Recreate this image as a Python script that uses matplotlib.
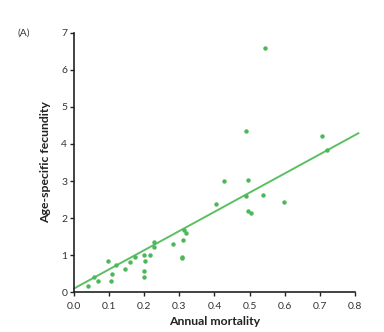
import matplotlib
matplotlib.use("Agg")
import matplotlib.pyplot as plt

mortality = [0.041, 0.058, 0.069, 0.098, 0.105, 0.107, 0.119, 0.146, 0.159, 0.173,
             0.199, 0.202, 0.199, 0.198, 0.217, 0.227, 0.228, 0.282, 0.309, 0.308,
             0.308, 0.314, 0.318, 0.404, 0.427, 0.497, 0.491, 0.497, 0.505, 0.538,
             0.599, 0.543, 0.490, 0.707, 0.721]
fecundity = [0.16, 0.41, 0.31, 0.84, 0.30, 0.50, 0.72, 0.63, 0.82, 0.95,
             1.00, 0.83, 0.56, 0.42, 0.99, 1.36, 1.23, 1.31, 1.42, 0.96,
             0.92, 1.67, 1.60, 2.39, 3.01, 3.02, 2.59, 2.20, 2.13, 2.61,
             2.44, 6.59, 4.34, 4.22, 3.84]
fit_x = [0.0, 0.81]
fit_y = [0.10, 4.29]

green = "#4cb85a"
fig = plt.figure(figsize=(3.84, 3.32), dpi=100)
ax = fig.add_axes([0.193, 0.120, 0.731, 0.781])
ax.plot(fit_x, fit_y, color="#5cbf62", lw=1.4, clip_on=False, zorder=2)
ax.plot(mortality, fecundity, "o", color=green, ms=3.2, mec="none", zorder=3, clip_on=False)
ax.set_xlim(0, 0.8)
ax.set_ylim(0, 7)
ax.set_xticks([0, 0.1, 0.2, 0.3, 0.4, 0.5, 0.6, 0.7, 0.8])
ax.set_xticklabels(["0.0", "0.1", "0.2", "0.3", "0.4", "0.5", "0.6", "0.7", "0.8"])
ax.set_yticks(range(8))
for s in ["top", "right"]:
    ax.spines[s].set_visible(False)
for s in ["left", "bottom"]:
    ax.spines[s].set_linewidth(1.2)
    ax.spines[s].set_color("#222222")
ax.tick_params(direction="out", length=3, width=1, colors="#222222",
               labelsize=7.5, labelcolor="#333333")
ax.tick_params(axis="x", pad=4)
ax.tick_params(axis="y", pad=2)
for lab in ax.get_xticklabels() + ax.get_yticklabels():
    lab.set_family("Lato")
ax.set_xlabel("Annual mortality", family="Lato", fontweight="bold", fontsize=8.8,
              color="#222222", labelpad=3.5)
ax.set_ylabel("Age-specific fecundity", family="Lato", fontweight="bold", fontsize=8.8,
              color="#222222", labelpad=7)
fig.text(0.045, 0.9, "(A)", family="Lato", fontsize=7.5, color="#333333", va="center")
fig.savefig("out.png", dpi=100)
